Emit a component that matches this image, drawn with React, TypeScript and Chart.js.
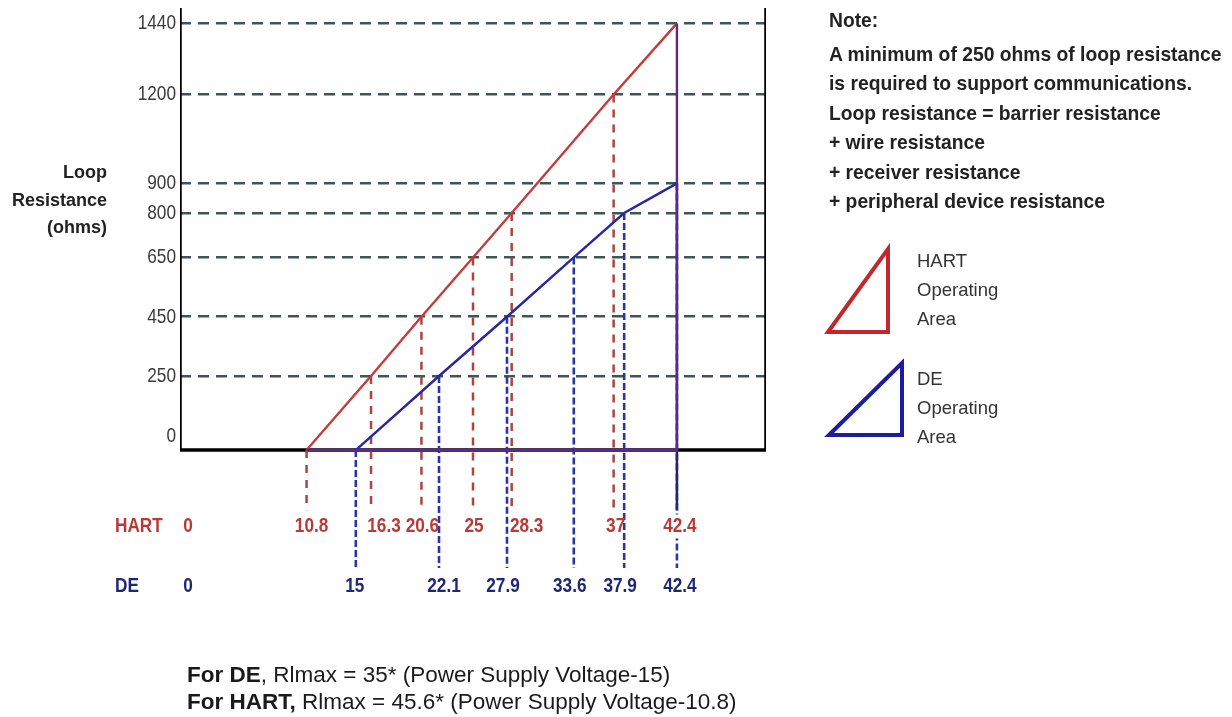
import React, { useEffect, useRef } from 'react';
import { Chart, registerables } from 'chart.js';

Chart.register(...registerables);

// ---------------- data ----------------
const yTickValues = [0, 250, 450, 650, 800, 900, 1200, 1440];
const hartVoltages = [10.8, 16.3, 20.6, 25, 28.3, 37, 42.4];
const hartResistances = [0, 250, 450, 650, 800, 1200, 1440];
const hartTickLabels = ['10.8', '16.3', '20.6', '25', '28.3', '37', '42.4'];
const deVoltages = [15, 22.1, 27.9, 33.6, 37.9, 42.4];
const deResistances = [0, 250, 450, 650, 800, 900];
const deTickLabels = ['15', '22.1', '27.9', '33.6', '37.9', '42.4'];
const rowTitles = ['HART', 'DE'];
const axisTitleLines = ['Loop', 'Resistance', '(ohms)'];
const noteLines = [
  'Note:',
  'A minimum of 250 ohms of loop resistance',
  'is required to support communications.',
  'Loop resistance = barrier resistance',
  '+ wire resistance',
  '+ receiver resistance',
  '+ peripheral device resistance',
];
const legendHart = ['HART', 'Operating', 'Area'];
const legendDe = ['DE', 'Operating', 'Area'];
const formulaBold = ['For DE', 'For HART,'];
const formulaRest = [', Rlmax = 35* (Power Supply Voltage-15)', ' Rlmax = 45.6* (Power Supply Voltage-10.8)'];

// ---------------- layout / style ----------------
const W = 1232;
const H = 717;
const X_MAX = 50;
const Y_MIN = -901;
const Y_MAX = 1492;
const HART_DROP_END = -203;
const DE_DROP_END = -398;
const HART_ROW = -258;
const DE_ROW = -460;
const hartNudge = [5, 13, 1, 1, 15, 2, 3];
const deNudge = [-1, 5, -4, -4, -4, 3];
const NARROW_X = 0.82;

const RED = '#c43b3b';
const RED_DROP = '#a8463f';
const BLUE = '#2626a8';
const BLUE_DROP = '#2a36a6';
const PURPLE = '#5b2a86';
const EDGE_DARK = '#2a2660';
const GRID = '#3f5558';
const HART_TEXT = '#b83a36';
const DE_TEXT = '#1f2775';
const TICK_TEXT = '#3a3a3a';
const SANS = "'Liberation Sans', Arial, sans-serif";

const pts = (xs: number[], ys: number[]) => xs.map((x, i) => ({ x, y: ys[i] }));

const lineDs = (data: any[], color: any, width: number, dash: number[], order: number, extra: any = {}) => ({
  data,
  borderColor: color,
  borderWidth: width,
  borderDash: dash,
  pointRadius: 0,
  fill: false,
  tension: 0,
  order,
  ...extra,
});

function buildDatasets() {
  const ds: any[] = [];
  // axes frame (y axis, x axis, right border)
  ds.push(lineDs([{ x: 0, y: Y_MAX }, { x: 0, y: 0 }, { x: X_MAX, y: 0 }, { x: X_MAX, y: Y_MAX }], '#000', 3.5, [], 6));
  // HART drop lines
  hartVoltages.forEach((v, i) => {
    const isEdge = i === hartVoltages.length - 1;
    if (isEdge) {
      ds.push(lineDs([{ x: v, y: 0 }, { x: v, y: HART_DROP_END }], EDGE_DARK, 2.5, [], 2));
    } else {
      ds.push(lineDs([{ x: v, y: hartResistances[i] }, { x: v, y: HART_DROP_END }], RED_DROP, 2.5, [8, 7], 4));
    }
  });
  // DE drop lines
  deVoltages.forEach((v, i) => {
    ds.push(lineDs([{ x: v, y: deResistances[i] }, { x: v, y: DE_DROP_END }], BLUE_DROP, 2.6, [7, 3], 3));
  });
  const overlapColor = (base: string) => (ctx: any) =>
    ctx.p0.parsed.x === ctx.p1.parsed.x || ctx.p0.parsed.y === ctx.p1.parsed.y ? PURPLE : base;
  // HART operating area triangle
  const hartTri = [
    ...pts(hartVoltages, hartResistances),
    { x: hartVoltages[hartVoltages.length - 1], y: 0 },
    { x: hartVoltages[0], y: 0 },
  ];
  ds.push(lineDs(hartTri, RED, 2.4, [], 1, { segment: { borderColor: overlapColor(RED) } }));
  // DE operating area triangle
  const deTri = [
    ...pts(deVoltages, deResistances),
    { x: deVoltages[deVoltages.length - 1], y: 0 },
    { x: deVoltages[0], y: 0 },
  ];
  ds.push(lineDs(deTri, BLUE, 2.4, [], 0, { segment: { borderColor: overlapColor(BLUE) } }));
  return ds;
}

// draw horizontally condensed text (the reference uses a narrow face)
function narrowText(ctx: any, text: string, x: number, y: number, align: string) {
  ctx.save();
  ctx.translate(x, y);
  ctx.scale(NARROW_X, 1);
  ctx.textAlign = align;
  ctx.fillText(text, 0, 0);
  ctx.restore();
}

const textPlugin = {
  id: 'textLayer',
  afterDatasetsDraw(chart: any) {
    const { ctx, chartArea } = chart;
    const xs = chart.scales.x;
    const ys = chart.scales.y;
    ctx.save();
    ctx.textBaseline = 'middle';
    // y tick labels, from the scale's ticks
    ctx.font = `21px ${SANS}`;
    ctx.fillStyle = TICK_TEXT;
    ys.ticks.forEach((t: any, i: number) => {
      const py = ys.getPixelForTick(i) - (t.value === 0 ? 14 : 0);
      narrowText(ctx, String(t.value), chartArea.left - 4, py, 'right');
    });

    const drawRow = (title: string, labels: string[], values: number[], nudges: number[], rowValue: number, color: string) => {
      const py = ys.getPixelForValue(rowValue);
      ctx.font = `bold 21px ${SANS}`;
      ctx.fillStyle = color;
      narrowText(ctx, title, 115, py, 'left');
      narrowText(ctx, '0', xs.getPixelForValue(0) + 8, py, 'center');
      labels.forEach((lab, i) => {
        const px = xs.getPixelForValue(values[i]) + nudges[i];
        const w = ctx.measureText(lab).width * NARROW_X * 0.6;
        ctx.fillStyle = '#ffffff';
        ctx.fillRect(px - w / 2, py - 12, w, 24);
        ctx.fillStyle = color;
        narrowText(ctx, lab, px, py, 'center');
      });
    };
    drawRow(rowTitles[0], hartTickLabels, hartVoltages, hartNudge, HART_ROW, HART_TEXT);
    drawRow(rowTitles[1], deTickLabels, deVoltages, deNudge, DE_ROW, DE_TEXT);
    ctx.restore();
  },
};

export default function App() {
  const ref = useRef<HTMLCanvasElement>(null);

  useEffect(() => {
    const canvas = ref.current;
    if (!canvas) return;
    const chart = new Chart(canvas, {
      type: 'line',
      data: { datasets: buildDatasets() },
      options: {
        responsive: false,
        animation: false,
        events: [],
        layout: { padding: { left: 0, right: W - 766, top: 8, bottom: 0 } },
        plugins: { legend: { display: false }, tooltip: { enabled: false } },
        scales: {
          x: { type: 'linear', min: 0, max: X_MAX, display: false },
          y: {
            type: 'linear',
            min: Y_MIN,
            max: Y_MAX,
            afterFit: (s: any) => {
              s.width = 180;
              s.paddingTop = 0;
              s.paddingBottom = 0;
            },
            afterBuildTicks: (s: any) => {
              s.ticks = yTickValues.map((v) => ({ value: v }));
            },
            ticks: { display: false },
            grid: {
              color: (c: any) => (c.tick && c.tick.value === 0 ? 'rgba(0,0,0,0)' : GRID),
              lineWidth: 2.6,
              drawTicks: false,
            },
            border: { display: false, dash: [11, 7] },
          },
        },
      } as any,
      plugins: [textPlugin],
    } as any);
    return () => chart.destroy();
  }, []);

  const abs = (extra: any) => ({ position: 'absolute' as const, whiteSpace: 'nowrap' as const, ...extra });

  return (
    <div style={{ position: 'absolute', left: 0, top: 0, width: W, height: H, overflow: 'hidden', background: '#fff', fontFamily: SANS }}>
      <canvas ref={ref} width={W} height={H} style={{ position: 'absolute', left: 0, top: 0, width: W, height: H }} />
      <div style={abs({ left: 0, width: 107, top: 159, textAlign: 'right', fontWeight: 'bold', fontSize: 18, lineHeight: '27.5px', color: '#222' })}>
        {axisTitleLines.map((t) => (
          <div key={t}>{t}</div>
        ))}
      </div>
      <div style={abs({ left: 829, top: 10, fontWeight: 'bold', fontSize: 19.3, lineHeight: '29.5px', color: '#222' })}>
        {noteLines.map((t, i) => (
          <div key={t} style={i === 0 ? { marginTop: -4, marginBottom: 4 } : undefined}>{t}</div>
        ))}
      </div>
      <svg width={W} height={H} style={{ position: 'absolute', left: 0, top: 0, pointerEvents: 'none' }}>
        <polygon points="828,332 888,249 888,332" fill="none" stroke="#c0282d" strokeWidth={4} strokeLinejoin="miter" />
        <polygon points="829,435 902,363 902,435" fill="none" stroke="#1c1c9c" strokeWidth={4} strokeLinejoin="miter" />
      </svg>
      <div style={abs({ left: 917, top: 245.5, fontSize: 18.5, lineHeight: '29px', color: '#333' })}>
        {legendHart.map((t) => (
          <div key={t}>{t}</div>
        ))}
      </div>
      <div style={abs({ left: 917, top: 363.5, fontSize: 18.5, lineHeight: '29px', color: '#333' })}>
        {legendDe.map((t) => (
          <div key={t}>{t}</div>
        ))}
      </div>
      <div style={abs({ left: 187, top: 661, fontSize: 22.5, lineHeight: '27px', color: '#1a1a1a' })}>
        {formulaBold.map((b, i) => (
          <div key={b}>
            <b>{b}</b>
            {formulaRest[i]}
          </div>
        ))}
      </div>
    </div>
  );
}
